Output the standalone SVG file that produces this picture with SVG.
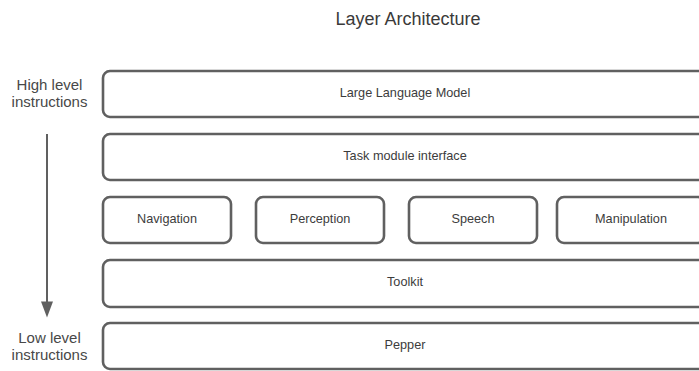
<svg xmlns="http://www.w3.org/2000/svg" width="699" height="371" viewBox="0 0 699 371">
  <style>
    .box { fill: #ffffff; stroke: #606060; stroke-width: 2.6; }
    .lbl { font-family: "Liberation Sans", Arial, sans-serif; font-size: 12.7px; fill: #3c3c3c; text-anchor: middle; }
    .side { font-family: "Liberation Sans", Arial, sans-serif; font-size: 15px; fill: #484848; text-anchor: middle; }
    .title { font-family: "Liberation Sans", Arial, sans-serif; font-size: 18px; fill: #3a3a3a; text-anchor: middle; }
  </style>

  <rect width="699" height="371" fill="#ffffff"/>

  <text class="title" x="408" y="24.5">Layer Architecture</text>

  <!-- level labels -->
  <g id="label-high">
    <text class="side" x="49.5" y="89.5">High level</text>
    <text class="side" x="49.5" y="106.8">instructions</text>
  </g>
  <g id="label-low">
    <text class="side" x="49.5" y="342.8">Low level</text>
    <text class="side" x="49.5" y="360.2">instructions</text>
  </g>

  <!-- connectors: downward arrow from high to low level -->
  <g id="connectors">
    <path d="M47,134 V302" stroke="#606060" stroke-width="2" fill="none"/>
    <path d="M41,301.5 L53,301.5 L47,317.5 Z" fill="#606060"/>
  </g>

  <!-- layers -->
  <g id="llm">
    <rect class="box" x="103" y="71" width="606" height="46" rx="7"/>
    <text class="lbl" x="405" y="96.7">Large Language Model</text>
  </g>
  <g id="task-module-interface">
    <rect class="box" x="103" y="134" width="606" height="46" rx="7"/>
    <text class="lbl" x="405" y="159.5">Task module interface</text>
  </g>
  <g id="navigation">
    <rect class="box" x="103" y="197" width="128" height="46" rx="7"/>
    <text class="lbl" x="167" y="222.8">Navigation</text>
  </g>
  <g id="perception">
    <rect class="box" x="256" y="197" width="128" height="46" rx="7"/>
    <text class="lbl" x="320" y="222.8">Perception</text>
  </g>
  <g id="speech">
    <rect class="box" x="409" y="197" width="128" height="46" rx="7"/>
    <text class="lbl" x="473" y="222.8">Speech</text>
  </g>
  <g id="manipulation">
    <rect class="box" x="557" y="197" width="148" height="46" rx="7"/>
    <text class="lbl" x="631" y="222.8">Manipulation</text>
  </g>
  <g id="toolkit">
    <rect class="box" x="103" y="260" width="606" height="47" rx="7"/>
    <text class="lbl" x="405" y="286">Toolkit</text>
  </g>
  <g id="pepper">
    <rect class="box" x="103" y="323" width="606" height="46" rx="7"/>
    <text class="lbl" x="405" y="349.3">Pepper</text>
  </g>
</svg>
